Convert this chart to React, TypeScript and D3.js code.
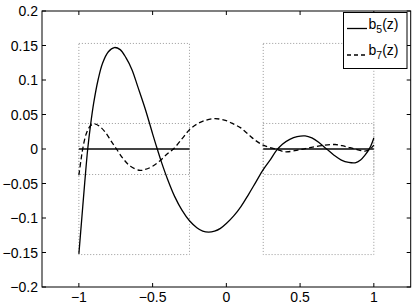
import React from "react";
import * as d3 from "d3";

const b5X = [-1, -0.98, -0.96, -0.94, -0.92, -0.9, -0.87, -0.84, -0.8, -0.76, -0.72, -0.68, -0.64, -0.6, -0.55, -0.5, -0.47, -0.44, -0.4, -0.35, -0.3, -0.25, -0.2, -0.16, -0.12, -0.08, -0.04, 0, 0.05, 0.1, 0.15, 0.2, 0.25, 0.3, 0.34, 0.38, 0.43, 0.48, 0.534, 0.58, 0.63, 0.68, 0.73, 0.78, 0.83, 0.873, 0.91, 0.94, 0.974, 1];
const b5Y = [-0.152, -0.1, -0.048, 0, 0.036, 0.066, 0.1, 0.124, 0.141, 0.147, 0.144, 0.132, 0.115, 0.09, 0.058, 0.022, 0.001, -0.019, -0.043, -0.069, -0.089, -0.104, -0.114, -0.119, -0.1205, -0.119, -0.115, -0.108, -0.097, -0.083, -0.066, -0.048, -0.03, -0.015, -0.002, 0.007, 0.014, 0.018, 0.019, 0.016, 0.009, 0, -0.009, -0.016, -0.0195, -0.02, -0.016, -0.009, 0.002, 0.016];

const b7X = [-1, -0.985, -0.974, -0.95, -0.92, -0.895, -0.86, -0.82, -0.78, -0.745, -0.7, -0.65, -0.585, -0.55, -0.5, -0.45, -0.4, -0.359, -0.3, -0.25, -0.2, -0.15, -0.077, 0, 0.05, 0.095, 0.15, 0.194, 0.25, 0.33, 0.4, 0.5, 0.567, 0.65, 0.737, 0.8, 0.873, 0.94, 0.97, 1];
const b7Y = [-0.038, -0.015, 0, 0.022, 0.034, 0.0365, 0.033, 0.024, 0.011, 0, -0.014, -0.025, -0.031, -0.0297, -0.025, -0.017, -0.007, 0, 0.015, 0.028, 0.036, 0.041, 0.044, 0.041, 0.036, 0.031, 0.021, 0.013, 0.0055, 0, -0.004, -0.001, 0.002, 0.005, 0.0065, 0.004, 0, -0.003, -0.001, 0.0055];

const xTicks = [-1, -0.5, 0, 0.5, 1];
const xTickLabels = ["\u22121", "\u22120.5", "0", "0.5", "1"];
const yTicks = [-0.2, -0.15, -0.1, -0.05, 0, 0.05, 0.1, 0.15, 0.2];
const yTickLabels = ["\u22120.2", "\u22120.15", "\u22120.1", "\u22120.05", "0", "0.05", "0.1", "0.15", "0.2"];

// reference boxes: x intervals and half-heights
const boxIntervals = [[-1, -0.25], [0.25, 1]];
const boxHeights = [0.153, 0.037];

const W = 415, H = 304;
const left = 42, right = 410.7, top = 11, bottom = 287;

export default function App() {
  const x = d3.scaleLinear().domain([-1.25, 1.25]).range([left, right]);
  const y = d3.scaleLinear().domain([-0.2, 0.2]).range([bottom, top]);
  const line = d3.line<[number, number]>().x(d => x(d[0])).y(d => y(d[1])).curve(d3.curveCatmullRom.alpha(0.5));
  const b5 = b5X.map((v, i) => [v, b5Y[i]] as [number, number]);
  const b7 = b7X.map((v, i) => [v, b7Y[i]] as [number, number]);
  const font = "'Liberation Sans', Arial, sans-serif";
  const tl = 4;
  return (
    <svg width={W} height={H} style={{ position: "absolute", left: 0, top: 0, background: "#fff" }}>
      <rect x={0} y={0} width={W} height={H} fill="#fff" />
      {boxIntervals.map((iv, i) =>
        boxHeights.map((h, j) => (
          <rect key={`b${i}-${j}`} x={x(iv[0])} y={y(h)} width={x(iv[1]) - x(iv[0])} height={y(-h) - y(h)}
            fill="none" stroke="#999" strokeWidth={1} strokeDasharray="1 2" />
        ))
      )}
      {boxIntervals.map((iv, i) => (
        <line key={`z${i}`} x1={x(iv[0])} x2={x(iv[1])} y1={y(0)} y2={y(0)} stroke="#444" strokeWidth={1.8} />
      ))}
      <path d={line(b5) || ""} fill="none" stroke="#000" strokeWidth={1.3} />
      <path d={line(b7) || ""} fill="none" stroke="#000" strokeWidth={1.3} strokeDasharray="5 3" />
      <rect x={left} y={top} width={right - left} height={bottom - top} fill="none" stroke="#000" strokeWidth={1} />
      {xTicks.map((t, i) => (
        <g key={`xt${i}`}>
          <line x1={x(t)} x2={x(t)} y1={bottom} y2={bottom - tl} stroke="#000" />
          <line x1={x(t)} x2={x(t)} y1={top} y2={top + tl} stroke="#000" />
          <text x={x(t)} y={301.5} textAnchor="middle" fontFamily={font} fontSize={14}>{xTickLabels[i]}</text>
        </g>
      ))}
      {yTicks.map((t, i) => (
        <g key={`yt${i}`}>
          <line x1={left} x2={left + tl} y1={y(t)} y2={y(t)} stroke="#000" />
          <line x1={right} x2={right - tl} y1={y(t)} y2={y(t)} stroke="#000" />
          <text x={38} y={y(t)} dy="0.36em" textAnchor="end" fontFamily={font} fontSize={14}>{yTickLabels[i]}</text>
        </g>
      ))}
      <g>
        <rect x={343.5} y={12.5} width={63.5} height={56} fill="#fff" stroke="#000" strokeWidth={1} />
        <line x1={347} x2={367} y1={28.5} y2={28.5} stroke="#000" strokeWidth={1.3} />
        <line x1={347} x2={367} y1={55} y2={55} stroke="#000" strokeWidth={1.3} strokeDasharray="4 3" />
        <text x={368.5} y={28.5} fontFamily={font} fontSize={14}>
          b<tspan dy={4.5} fontSize={10.5}>5</tspan><tspan dy={-4.5}>(z)</tspan>
        </text>
        <text x={368.5} y={54.5} fontFamily={font} fontSize={14}>
          b<tspan dy={4.5} fontSize={10.5}>7</tspan><tspan dy={-4.5}>(z)</tspan>
        </text>
      </g>
    </svg>
  );
}
